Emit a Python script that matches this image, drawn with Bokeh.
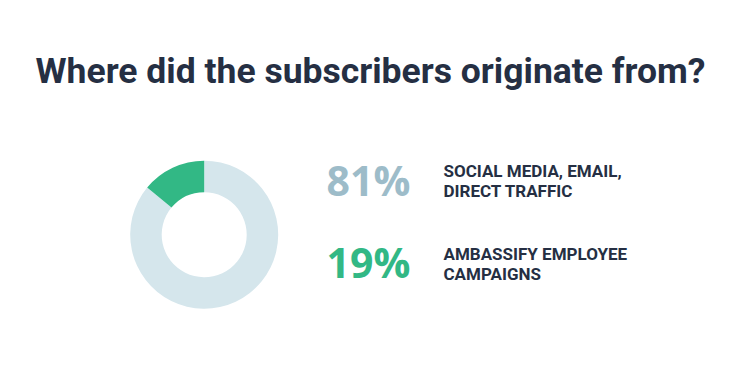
from bokeh.plotting import figure
from bokeh.models import Range1d, ColumnDataSource
from bokeh.core.properties import value
from bokeh.embed import file_html
from bokeh.resources import INLINE
import numpy as np

title = "Where did the subscribers originate from?"
categories = ["SOCIAL MEDIA, EMAIL,\nDIRECT TRAFFIC", "AMBASSIFY EMPLOYEE\nCAMPAIGNS"]
pct_labels = ["81%", "19%"]
slice_shares = [86, 14]
colors_slice = ["#d5e6ec", "#32b885"]
colors_pct = ["#9dbcc9", "#32b885"]

W, H = 724, 370
FONT = value("Roboto")
p = figure(width=W, height=H, output_backend="svg", toolbar_location=None,
           x_range=Range1d(0, W), y_range=Range1d(0, H))
p.axis.visible = False
p.grid.visible = False
p.outline_line_color = None
p.background_fill_color = "white"
p.border_fill_color = "white"
p.min_border = 0

# donut: green slice starts at 12 o'clock, going counter-clockwise
shares = np.array(slice_shares, dtype=float)
frac = shares / shares.sum()
green_ang = frac[1] * 2 * np.pi
starts = [np.pi / 2 + green_ang, np.pi / 2]
ends = [np.pi / 2 + 2 * np.pi, np.pi / 2 + green_ang]
src = ColumnDataSource(dict(start=starts, end=ends, color=colors_slice))
p.annular_wedge(x=203.7, y=135.8, inner_radius=42.5, outer_radius=74,
                inner_radius_units="screen", outer_radius_units="screen",
                start_angle="start", end_angle="end", color="color",
                line_color=None, source=src)

p.text(x=[370], y=[299.7], text=[title], text_font=FONT,
       text_font_style="bold", text_font_size="35.5px", text_color="#252f43",
       text_align="center", text_baseline="alphabetic")

p.text(x=[326, 326], y=[190.5, 108.5], text=pct_labels, text_font=value("Open Sans"),
       text_font_style="bold", text_font_size="41px", text_color=colors_pct,
       text_align="left", text_baseline="alphabetic")

lines_x, lines_y, lines_t = [], [], []
for cat, yb in zip(categories, [199.5, 116.5]):
    for i, ln in enumerate(cat.split("\n")):
        lines_x.append(443)
        lines_y.append(yb - i * 19.6)
        lines_t.append(ln)
p.text(x=lines_x, y=lines_y, text=lines_t, text_font=FONT,
       text_font_style="bold", text_font_size="17px", text_color="#252f43",
       text_align="left", text_baseline="alphabetic")

open("out.html", "w").write(file_html(p, INLINE))
